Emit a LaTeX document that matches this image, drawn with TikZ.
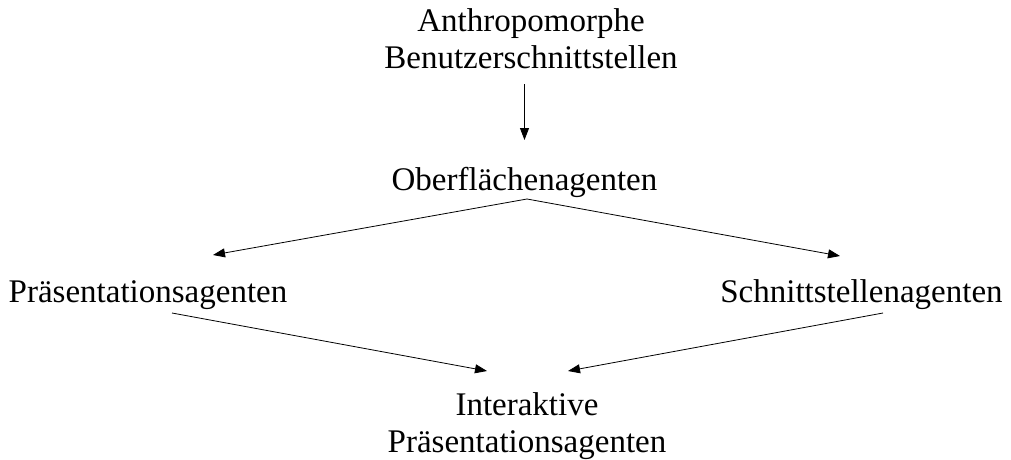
\documentclass[tikz,border=0pt]{standalone}
\usepackage{fontspec}
\setmainfont{Liberation Serif}
\usetikzlibrary{arrows.meta,calc}
\tikzset{
  lbl/.style={inner sep=0pt,align=center,font=\fontsize{33}{37}\selectfont},
  conn/.style={line width=0.8pt,-{Triangle[length=12pt,width=9pt]}}
}
\begin{document}
\begin{tikzpicture}[x=1pt,y=-1pt]
\useasboundingbox (0,0) rectangle (1011,460);
\node[lbl,anchor=north] (top) at (531,8.5) {Anthropomorphe\\Benutzerschnittstellen};
\node[lbl,anchor=base] (mid) at (524.5,190) {Oberflächenagenten};
\node[lbl,anchor=base] (left) at (148,302) {Präsentationsagenten};
\node[lbl,anchor=base] (right) at (861.5,302) {Schnittstellenagenten};
\node[lbl,anchor=north] (bot) at (527,392.5) {Interaktive\\Präsentationsagenten};
\draw[conn] ($(mid.base)+(0,-106)$) -- ($(mid.base)+(0,-50)$);
\draw[conn] ($(mid.base)+(2.5,9)$) -- ($(left.base)+(65,-47)$);
\draw[conn] ($(mid.base)+(2.5,9)$) -- ($(right.base)+(-21.5,-46)$);
\draw[conn] ($(left.base)+(24,11)$) -- ($(bot.north)+(-40,-21.5)$);
\draw[conn] ($(right.base)+(21.5,11)$) -- ($(bot.north)+(41,-21.5)$);
\end{tikzpicture}
\end{document}
